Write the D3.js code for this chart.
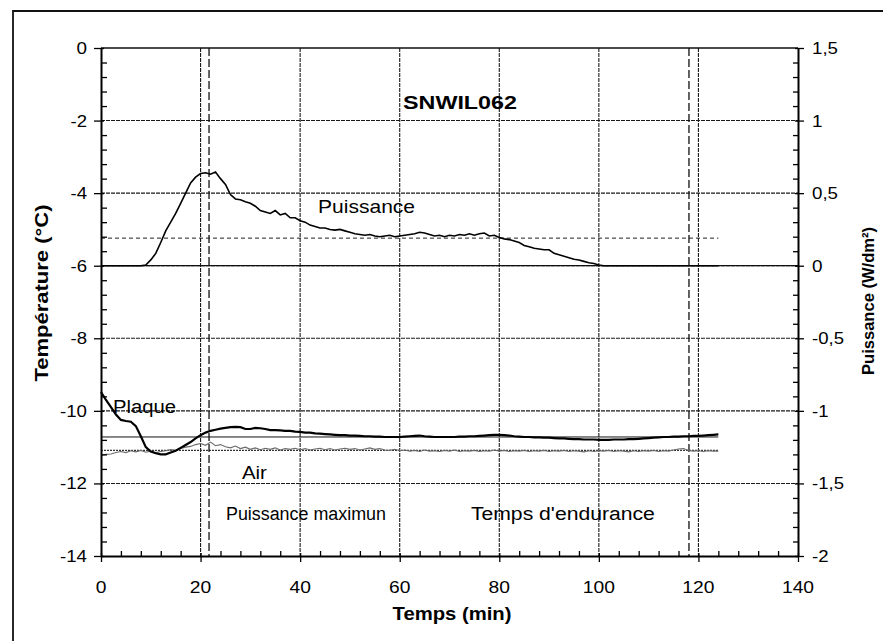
<!DOCTYPE html>
<html>
<head>
<meta charset="utf-8">
<script src="https://cdn.jsdelivr.net/npm/d3@7"></script>
<style>
  html, body { margin: 0; padding: 0; background: #fff; }
  svg { display: block; font-family: Arial, "Liberation Sans", sans-serif; }
</style>
</head>
<body>
<svg id="chart" width="883" height="641"></svg>
<script>
// Test SNWIL062 — plate and air temperature, heating power versus time
const chartTitle = "SNWIL062";

// time axis (min), one sample per minute
const minutes = d3.range(0, 125);

// heating power (W/dm²), right axis
const puissance = [
  0, 0, 0, 0, 0, 0, 0, 0, 0, 0.005,
  0.04, 0.085, 0.16, 0.24, 0.30, 0.36, 0.43, 0.50, 0.57, 0.61,
  0.635, 0.64, 0.63, 0.645, 0.60, 0.56, 0.49, 0.46, 0.455, 0.44,
  0.43, 0.41, 0.38, 0.37, 0.36, 0.38, 0.35, 0.36, 0.33, 0.33,
  0.31, 0.30, 0.28, 0.27, 0.26, 0.26, 0.25, 0.245, 0.25, 0.24,
  0.23, 0.22, 0.215, 0.21, 0.215, 0.205, 0.20, 0.205, 0.21, 0.20,
  0.205, 0.21, 0.215, 0.22, 0.23, 0.225, 0.215, 0.205, 0.21, 0.20,
  0.21, 0.205, 0.215, 0.21, 0.22, 0.21, 0.22, 0.225, 0.205, 0.21,
  0.195, 0.185, 0.18, 0.17, 0.16, 0.14, 0.13, 0.12, 0.115, 0.11,
  0.11, 0.085, 0.075, 0.065, 0.055, 0.045, 0.04, 0.03, 0.02, 0.015,
  0.005, 0, 0, 0, 0, 0, 0, 0, 0, 0,
  0, 0, 0, 0, 0, 0, 0, 0, 0, 0,
  0, 0, 0, 0, 0
];

// plate temperature (°C), left axis
const plaque = [
  -9.48, -9.70, -9.90, -10.10, -10.25, -10.28, -10.30, -10.42, -10.70, -11.00,
  -11.12, -11.17, -11.20, -11.20, -11.15, -11.10, -11.02, -10.94, -10.86, -10.76,
  -10.67, -10.60, -10.55, -10.52, -10.49, -10.47, -10.45, -10.44, -10.45, -10.50,
  -10.50, -10.47, -10.48, -10.50, -10.53, -10.53, -10.54, -10.55, -10.55, -10.57,
  -10.58, -10.60, -10.60, -10.62, -10.63, -10.64, -10.65, -10.66, -10.67, -10.67,
  -10.68, -10.68, -10.69, -10.70, -10.70, -10.71, -10.71, -10.72, -10.72, -10.72,
  -10.72, -10.71, -10.70, -10.69, -10.68, -10.70, -10.71, -10.72, -10.72, -10.72,
  -10.72, -10.72, -10.71, -10.71, -10.70, -10.70, -10.69, -10.68, -10.67, -10.66,
  -10.66, -10.67, -10.68, -10.70, -10.71, -10.72, -10.72, -10.73, -10.73, -10.74,
  -10.74, -10.75, -10.76, -10.76, -10.77, -10.78, -10.78, -10.79, -10.79, -10.79,
  -10.80, -10.80, -10.80, -10.79, -10.79, -10.79, -10.78, -10.78, -10.77, -10.76,
  -10.75, -10.74, -10.73, -10.72, -10.72, -10.71, -10.71, -10.70, -10.70, -10.69,
  -10.69, -10.68, -10.67, -10.66, -10.65
];

// air temperature (°C), left axis
const air = [
  -11.22, -11.20, -11.19, -11.15, -11.12, -11.15, -11.10, -11.13, -11.09, -11.14,
  -11.11, -11.15, -11.12, -11.10, -11.07, -11.09, -11.04, -11.00, -10.98, -10.93,
  -10.90, -10.95, -10.86, -10.96, -10.93, -10.99, -11.02, -10.97, -11.04, -11.00,
  -11.06, -11.02, -11.07, -11.03, -11.06, -11.02, -11.08, -11.04, -11.06, -11.03,
  -11.07, -11.04, -11.08, -11.05, -11.03, -11.07, -11.04, -11.08, -11.05, -11.03,
  -11.06, -11.04, -11.08, -11.05, -11.02, -11.06, -11.04, -11.08, -11.09, -11.06,
  -11.10, -11.08, -11.11, -11.09, -11.12, -11.08, -11.11, -11.10, -11.12, -11.09,
  -11.11, -11.08, -11.12, -11.10, -11.11, -11.09, -11.12, -11.10, -11.11, -11.08,
  -11.11, -11.09, -11.12, -11.10, -11.11, -11.09, -11.12, -11.10, -11.11, -11.09,
  -11.12, -11.10, -11.11, -11.09, -11.12, -11.10, -11.11, -11.13, -11.10, -11.12,
  -11.10, -11.11, -11.09, -11.12, -11.10, -11.11, -11.13, -11.10, -11.12, -11.10,
  -11.11, -11.09, -11.12, -11.10, -11.11, -11.08, -11.05, -11.04, -11.09, -11.11,
  -11.10, -11.12, -11.10, -11.11, -11.11
];

// reference levels
const moyennePlaque = -10.72;     // °C
const moyenneAir = -11.09;        // °C
const puissanceMoyenne = 0.19;    // W/dm²
const finMesure = 124;            // min
const tempsPuissanceMax = 21.7;   // min
const tempsEndurance = 118.1;     // min

// axis ticks
const xTicks = [0, 20, 40, 60, 80, 100, 120, 140];
const yLeftTicks = [0, -2, -4, -6, -8, -10, -12, -14];
const yRightTicks = [1.5, 1, 0.5, 0, -0.5, -1, -1.5, -2];

// in-plot annotations (x in min, y in °C on the left axis)
const labels = [
  { text: "Puissance", x: 43.6, y: -4.56, size: 19, width: 97 },
  { text: "Plaque", x: 2.4, y: -10.07, size: 18, width: 63 },
  { text: "Air", x: 28.3, y: -11.87, size: 18, width: 25 },
  { text: "Puissance maximun", x: 25.1, y: -13.0, size: 18, width: 160 },
  { text: "Temps d'endurance", x: 74.3, y: -13.0, size: 18, width: 184 }
];

const svg = d3.select("#chart");

const plot = { left: 101, right: 798, top: 48, bottom: 556 };

const x = d3.scaleLinear().domain([0, 140]).range([plot.left, plot.right]);
const yT = d3.scaleLinear().domain([-14, 0]).range([plot.bottom, plot.top]);
const yP = d3.scaleLinear().domain([-2, 1.5]).range([plot.bottom, plot.top]);

// outer frame
svg.append("path")
  .attr("d", `M13,641 L13,11 L883,11`)
  .attr("fill", "none").attr("stroke", "#111").attr("stroke-width", 1.8);

// grid
const grid = svg.append("g").attr("stroke", "#1a1a1a").attr("stroke-width", 1.1)
  .attr("stroke-dasharray", "4,1");
grid.selectAll(".gx").data(xTicks.filter(d => d > 0 && d < 140)).join("line")
  .attr("x1", d => x(d)).attr("x2", d => x(d))
  .attr("y1", plot.top).attr("y2", plot.bottom);
grid.selectAll(".gy").data(yLeftTicks.filter(d => d < 0 && d > -14)).join("line")
  .attr("x1", plot.left).attr("x2", plot.right)
  .attr("y1", d => yT(d)).attr("y2", d => yT(d));

// top frame line and power baseline
svg.append("line").attr("x1", plot.left).attr("x2", plot.right)
  .attr("y1", yT(0)).attr("y2", yT(0)).attr("stroke", "#111").attr("stroke-width", 1.6);
svg.append("line").attr("x1", plot.left).attr("x2", plot.right)
  .attr("y1", yP(0)).attr("y2", yP(0)).attr("stroke", "#111").attr("stroke-width", 1.3);

// reference levels
svg.append("line").attr("x1", x(0)).attr("x2", x(finMesure))
  .attr("y1", yP(puissanceMoyenne)).attr("y2", yP(puissanceMoyenne))
  .attr("stroke", "#222").attr("stroke-width", 1).attr("stroke-dasharray", "4,3");
svg.append("line").attr("x1", x(0)).attr("x2", x(finMesure))
  .attr("y1", yT(moyennePlaque)).attr("y2", yT(moyennePlaque))
  .attr("stroke", "#111").attr("stroke-width", 1);
svg.append("line").attr("x1", x(0)).attr("x2", x(finMesure))
  .attr("y1", yT(moyenneAir)).attr("y2", yT(moyenneAir))
  .attr("stroke", "#333").attr("stroke-width", 1.3).attr("stroke-dasharray", "2,1");

// event markers
svg.selectAll(".ev").data([tempsPuissanceMax, tempsEndurance]).join("line")
  .attr("x1", d => x(d)).attr("x2", d => x(d))
  .attr("y1", plot.top).attr("y2", plot.bottom)
  .attr("stroke", "#111").attr("stroke-width", 1.3).attr("stroke-dasharray", "8,3");

// series
const lineOf = (vals, yScale) => d3.line()
  .x((d, i) => x(minutes[i])).y(d => yScale(d))(vals);

svg.append("path").attr("d", lineOf(air, yT))
  .attr("fill", "none").attr("stroke", "#6a6a6a").attr("stroke-width", 1.1);
svg.append("path").attr("d", lineOf(plaque, yT))
  .attr("fill", "none").attr("stroke", "#000").attr("stroke-width", 2.2);
svg.append("path").attr("d", lineOf(puissance, yP))
  .attr("fill", "none").attr("stroke", "#000").attr("stroke-width", 1.6);

// axes
const axisStyle = g => {
  g.selectAll("path.domain").attr("stroke", "#000").attr("stroke-width", 2);
  g.selectAll("text").remove();
};
const minorStyle = g => {
  g.select("path.domain").remove();
  g.selectAll("text").remove();
  g.selectAll("line").attr("stroke", "#000").attr("stroke-width", 1.3);
};

// left axis: major ticks across the line, minor ticks inward
const leftAx = svg.append("g").attr("transform", `translate(${plot.left},0)`)
  .call(d3.axisLeft(yT).tickValues(yLeftTicks).tickSize(6).tickSizeOuter(0))
  .call(axisStyle);
leftAx.selectAll(".tick line").attr("x2", -7).attr("x1", 3).attr("stroke", "#000").attr("stroke-width", 1.3);
svg.append("g").attr("transform", `translate(${plot.left},0)`)
  .call(d3.axisRight(yT).tickValues(d3.range(-14, 0.01, 0.4).filter(v => Math.abs(v / 2 - Math.round(v / 2)) > 0.01)).tickSize(6).tickSizeOuter(0))
  .call(minorStyle);

// right axis
const rightAx = svg.append("g").attr("transform", `translate(${plot.right},0)`)
  .call(d3.axisRight(yP).tickValues(yRightTicks).tickSize(6).tickSizeOuter(0))
  .call(axisStyle);
rightAx.selectAll(".tick line").attr("x1", -3).attr("stroke", "#000").attr("stroke-width", 1.3);
svg.append("g").attr("transform", `translate(${plot.right},0)`)
  .call(d3.axisLeft(yP).tickValues(d3.range(-2, 1.51, 0.1).filter(v => Math.abs(v * 2 - Math.round(v * 2)) > 0.01)).tickSize(5).tickSizeOuter(0))
  .call(minorStyle);

// bottom axis
const bottomAx = svg.append("g").attr("transform", `translate(0,${plot.bottom})`)
  .call(d3.axisBottom(x).tickValues(xTicks).tickSize(6).tickSizeOuter(0))
  .call(axisStyle);
bottomAx.selectAll(".tick line").attr("y1", -3).attr("stroke", "#000").attr("stroke-width", 1.3);
svg.append("g").attr("transform", `translate(0,${plot.bottom})`)
  .call(d3.axisTop(x).tickValues(d3.range(0, 140.01, 4).filter(v => v % 20 !== 0)).tickSize(5).tickSizeOuter(0))
  .call(minorStyle);

// text helper: fixed rendered width to follow the wide lettering
function label(parent, str, px, py, opts) {
  const t = parent.append("text")
    .attr("x", px).attr("y", py)
    .attr("font-size", opts.size)
    .attr("font-weight", opts.bold ? "bold" : "normal")
    .attr("text-anchor", opts.anchor || "start")
    .attr("fill", "#000")
    .text(str);
  if (opts.width) t.attr("textLength", opts.width).attr("lengthAdjust", "spacingAndGlyphs");
  if (opts.rotate) t.attr("transform", `rotate(${opts.rotate},${px},${py})`);
  return t;
}

const fmt = v => String(v).replace(".", ",");

// tick labels
xTicks.forEach(v => label(svg, fmt(v), x(v), 593, { size: 17, anchor: "middle", width: String(v).length * 10.7 }));
yLeftTicks.forEach(v => label(svg, fmt(v), 87, yT(v) + 6, { size: 17, anchor: "end", width: (v < 0 ? 6 : 0) + String(Math.abs(v)).length * 10.5 }));
yRightTicks.forEach(v => {
  const s = fmt(v);
  const w = (v < 0 ? 6 : 0) + s.replace("-", "").replace(",", "").length * 10.5 + (s.includes(",") ? 5 : 0);
  label(svg, s, 812, yP(v) + 6, { size: 17, anchor: "start", width: w });
});

// titles
label(svg, chartTitle, 403, 109, { size: 19, bold: true, width: 114 });
label(svg, "Temps (min)", 452, 620, { size: 18, bold: true, anchor: "middle", width: 119 });
label(svg, "Température (°C)", 48, 293, { size: 18, bold: true, anchor: "middle", rotate: -90, width: 177 });
label(svg, "Puissance (W/dm²)", 874, 301, { size: 17, bold: true, anchor: "middle", rotate: -90, width: 148 });

// annotations
labels.forEach(d => label(svg, d.text, x(d.x), yT(d.y), { size: d.size, width: d.width }));
</script>
</body>
</html>
